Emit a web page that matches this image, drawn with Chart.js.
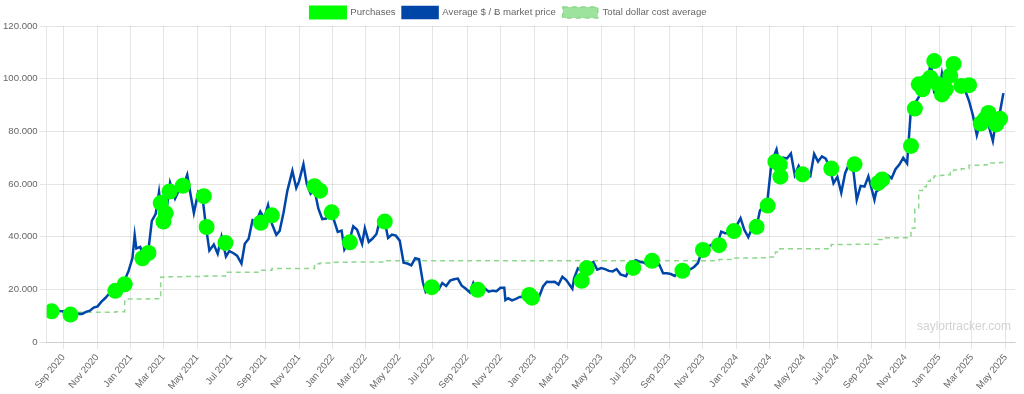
<!DOCTYPE html>
<html>
<head>
<meta charset="utf-8">
<script src="https://cdn.jsdelivr.net/npm/chart.js@4.4.1/dist/chart.umd.min.js"></script>
<style>
  html, body { margin: 0; padding: 0; background: #fff; }
  #wrap { position: relative; width: 1024px; height: 394px; }
  #mark { position: absolute; left: 917px; top: 320px; font: 12px 'Liberation Sans', Arial, sans-serif; line-height: 12px; color: #d2d2d2; white-space: nowrap; }
</style>
</head>
<body>
<div id="wrap">
  <canvas id="c" width="1024" height="394"></canvas>
  <div id="mark">saylortracker.com</div>
</div>
<script>
// ---------- DATA ----------
const priceDates = [
'2020-08-03','2020-08-10','2020-08-17','2020-08-24','2020-08-31','2020-09-07','2020-09-14','2020-09-21','2020-09-28','2020-10-05','2020-10-12','2020-10-19','2020-10-26','2020-11-02','2020-11-09','2020-11-16','2020-11-23','2020-11-30','2020-12-07','2020-12-14','2020-12-21','2020-12-28',
'2021-01-04','2021-01-08','2021-01-11','2021-01-18','2021-01-25','2021-02-01','2021-02-08','2021-02-15','2021-02-21','2021-02-28','2021-03-08','2021-03-13','2021-03-22','2021-03-29','2021-04-05','2021-04-13','2021-04-19','2021-04-25','2021-05-03','2021-05-10','2021-05-17','2021-05-23','2021-05-31','2021-06-07','2021-06-14','2021-06-22','2021-06-28','2021-07-05','2021-07-12','2021-07-20','2021-07-26','2021-08-02','2021-08-09','2021-08-16','2021-08-23','2021-08-30','2021-09-06','2021-09-13','2021-09-21','2021-09-27','2021-10-04','2021-10-11','2021-10-20','2021-10-27','2021-11-01','2021-11-09','2021-11-15','2021-11-22','2021-11-29','2021-12-06','2021-12-13','2021-12-20','2021-12-27',
'2022-01-03','2022-01-10','2022-01-17','2022-01-22','2022-01-31','2022-02-07','2022-02-14','2022-02-23','2022-02-28','2022-03-07','2022-03-14','2022-03-21','2022-03-28','2022-04-04','2022-04-11','2022-04-18','2022-04-25','2022-05-02','2022-05-09','2022-05-16','2022-05-23','2022-05-30','2022-06-06','2022-06-13','2022-06-18','2022-06-27','2022-07-04','2022-07-11','2022-07-18','2022-07-25','2022-08-01','2022-08-08','2022-08-15','2022-08-22','2022-08-29','2022-09-06','2022-09-12','2022-09-19','2022-09-26','2022-10-03','2022-10-10','2022-10-17','2022-10-24','2022-10-31','2022-11-07','2022-11-09','2022-11-14','2022-11-21','2022-11-28','2022-12-05','2022-12-12','2022-12-19','2022-12-26',
'2023-01-02','2023-01-09','2023-01-16','2023-01-23','2023-01-30','2023-02-06','2023-02-13','2023-02-20','2023-02-27','2023-03-10','2023-03-13','2023-03-20','2023-03-27','2023-04-03','2023-04-10','2023-04-17','2023-04-24','2023-05-01','2023-05-08','2023-05-15','2023-05-22','2023-05-29','2023-06-05','2023-06-15','2023-06-19','2023-06-26','2023-07-03','2023-07-10','2023-07-17','2023-07-24','2023-07-31','2023-08-07','2023-08-14','2023-08-21','2023-08-28','2023-09-04','2023-09-11','2023-09-18','2023-09-25','2023-10-02','2023-10-09','2023-10-16','2023-10-23','2023-10-30','2023-11-06','2023-11-13','2023-11-20','2023-11-27','2023-12-04','2023-12-11','2023-12-18','2023-12-25',
'2024-01-01','2024-01-08','2024-01-15','2024-01-22','2024-01-29','2024-02-05','2024-02-12','2024-02-19','2024-02-26','2024-03-04','2024-03-13','2024-03-18','2024-03-25','2024-04-01','2024-04-08','2024-04-15','2024-04-22','2024-04-29','2024-05-06','2024-05-13','2024-05-20','2024-05-27','2024-06-03','2024-06-10','2024-06-17','2024-06-24','2024-07-01','2024-07-08','2024-07-15','2024-07-22','2024-07-29','2024-08-05','2024-08-12','2024-08-19','2024-08-26','2024-09-06','2024-09-09','2024-09-16','2024-09-23','2024-09-30','2024-10-07','2024-10-14','2024-10-21','2024-10-28','2024-11-04','2024-11-11','2024-11-18','2024-11-25','2024-12-02','2024-12-09','2024-12-17','2024-12-23','2024-12-30',
'2025-01-06','2025-01-13','2025-01-21','2025-01-27','2025-02-03','2025-02-10','2025-02-17','2025-02-24','2025-03-03','2025-03-10','2025-03-17','2025-03-24','2025-03-31','2025-04-08','2025-04-14','2025-04-21','2025-04-27'
];
const priceValues = [
11200,11850,12250,11750,11650,10250,10800,10450,10750,10650,11450,11900,13050,13550,15300,16700,18400,19650,19200,19300,23500,27000,
31900,40500,35500,36100,32300,33500,46000,48700,57000,45200,52300,60500,54500,57600,58700,63500,56000,49000,57000,56000,43500,34700,37000,33500,40000,32500,34500,33800,32800,29800,37300,39200,46300,45900,49500,47000,52000,44900,40700,42200,49100,57500,65000,58500,61000,67500,60000,56300,57800,50600,46700,46900,50600,
46400,41800,42300,35100,38400,43900,42600,37300,43200,38000,39300,41000,47100,46600,39500,40800,40400,38500,30100,29800,29100,31800,31400,22500,19000,20700,20200,19900,22400,21300,23300,23800,24100,21400,20300,18800,22400,19500,19200,20300,19100,19500,19300,20600,20600,15900,16600,15800,16400,17100,17200,16900,16900,
16700,17200,21100,22900,22800,22900,21800,24800,23500,20200,24100,28000,27100,28200,29700,30300,27500,28100,27700,27000,26800,27700,25700,25000,26800,30300,31100,30400,30200,29200,29300,29000,29400,26100,26100,25800,25100,26800,26300,27500,27600,28500,30000,34500,35000,36500,37400,37200,41900,41300,41400,43600,
44200,47000,42500,39800,43300,42700,49900,51700,54500,68300,73100,67600,70000,69700,71600,63400,66800,63800,63100,62900,71400,68500,70500,69600,66500,60300,62700,56700,64100,67600,66800,54000,59300,59000,62900,54000,57000,58200,63300,63300,62200,65600,67400,69900,67800,88700,90500,93000,95900,97400,106100,94700,92800,
102000,94500,106000,102000,97800,97500,95500,91500,86000,78500,84000,87500,82500,76300,84500,87500,94500
];

const purchaseDates = [
'2020-08-11','2020-09-14','2020-12-04','2020-12-21',
'2021-01-22','2021-02-02','2021-02-24','2021-03-01','2021-03-05','2021-03-12','2021-04-05','2021-05-13','2021-05-18','2021-06-21','2021-08-24','2021-09-13','2021-11-29','2021-12-09','2021-12-30',
'2022-02-01','2022-04-05','2022-06-29','2022-09-20','2022-12-22','2022-12-27',
'2023-03-27','2023-04-05','2023-06-28','2023-08-01','2023-09-25','2023-11-01','2023-11-30','2023-12-27',
'2024-02-06','2024-02-26','2024-03-11','2024-03-19','2024-03-20','2024-04-29','2024-06-20','2024-08-01','2024-09-13','2024-09-20','2024-11-11','2024-11-18','2024-11-25','2024-12-02','2024-12-09','2024-12-16','2024-12-23','2024-12-30',
'2025-01-06','2025-01-13','2025-01-21','2025-01-27','2025-02-10','2025-02-24','2025-03-17','2025-03-24','2025-03-31','2025-04-14','2025-04-21'
];
const purchasePrices = [
11652,10419,19427,21925,
31808,33808,52765,45715,48888,57146,59339,55387,43663,37617,45294,48099,59187,57477,49229,
37865,45714,20817,19851,17871,16845,
23238,28016,28136,30835,27053,34935,36785,42110,
43723,51813,68477,67382,62800,63679,65883,67455,60408,61750,74463,88627,97862,95976,98783,100386,106662,97837,
94004,95972,101191,105596,97255,97514,82981,84529,86969,82618,84785
];

const costDates = [
'2020-08-11','2020-09-14','2020-12-04','2020-12-21',
'2021-01-22','2021-02-02','2021-02-24','2021-03-01','2021-03-05','2021-03-12','2021-04-05','2021-05-13','2021-05-18','2021-06-21','2021-08-24','2021-09-13','2021-11-29','2021-12-09','2021-12-30',
'2022-02-01','2022-04-05','2022-06-29','2022-09-20','2022-12-22',
'2023-03-27','2023-04-05','2023-06-28','2023-08-01','2023-09-25','2023-11-01','2023-11-30','2023-12-27',
'2024-02-06','2024-02-26','2024-03-11','2024-03-19','2024-04-29','2024-06-20','2024-08-01','2024-09-13','2024-09-20','2024-11-11','2024-11-18','2024-11-25','2024-12-02','2024-12-09','2024-12-16','2024-12-23','2024-12-30',
'2025-01-06','2025-01-13','2025-01-21','2025-01-27','2025-02-10','2025-02-24','2025-03-17','2025-03-24','2025-03-31','2025-04-14','2025-04-21','2025-04-27'
];
const costValues = [
11650,11300,11500,16300,
16350,16400,24600,24650,24700,24800,24900,25000,25050,26500,27200,27900,29700,30000,30300,
30400,30900,30900,30880,30870,
30850,30850,30850,30860,30850,30860,31300,31900,
32000,32300,34200,35400,35400,37000,37100,38900,39600,43200,50500,57500,59000,61000,62400,63000,63200,
63300,63500,64400,65300,65800,67100,67100,67300,68000,68100,68200,68200
];

const tickDates = [
'2020-09-01','2020-11-01','2021-01-01','2021-03-01','2021-05-01','2021-07-01','2021-09-01','2021-11-01',
'2022-01-01','2022-03-01','2022-05-01','2022-07-01','2022-09-01','2022-11-01',
'2023-01-01','2023-03-01','2023-05-01','2023-07-01','2023-09-01','2023-11-01',
'2024-01-01','2024-03-01','2024-05-01','2024-07-01','2024-09-01','2024-11-01',
'2025-01-01','2025-03-01','2025-05-01'
];
const tickLabels = [
'Sep 2020','Nov 2020','Jan 2021','Mar 2021','May 2021','Jul 2021','Sep 2021','Nov 2021',
'Jan 2022','Mar 2022','May 2022','Jul 2022','Sep 2022','Nov 2022',
'Jan 2023','Mar 2023','May 2023','Jul 2023','Sep 2023','Nov 2023',
'Jan 2024','Mar 2024','May 2024','Jul 2024','Sep 2024','Nov 2024',
'Jan 2025','Mar 2025','May 2025'
];
const yTickLabels = ['0','20.000','40.000','60.000','80.000','100.000','120.000'];
const xRange = ['2020-08-02','2025-05-18'];

// ---------- BUILD ----------
function toMs(s){ const p = s.split('-').map(Number); return Date.UTC(p[0], p[1]-1, p[2]); }
const pts = (dates, vals) => dates.map((d,i) => ({x: toMs(d), y: vals[i]}));

const FONT = "'Liberation Sans', Arial, Helvetica, sans-serif";
const FS = 9.6;
Chart.defaults.font.family = FONT;
Chart.defaults.font.size = FS;
Chart.defaults.color = '#666';

const legendHeight = {
  id: 'legendHeight',
  beforeLayout(chart){
    const lg = chart.legend;
    if (lg && !lg.__patched){
      const orig = lg.fit;
      lg.fit = function(){ orig.call(this); this.height = 26; };
      lg.__patched = true;
    }
  }
};

new Chart(document.getElementById('c'), {
  type: 'line',
  data: {
    datasets: [
      {
        label: 'Purchases',
        data: pts(purchaseDates, purchasePrices),
        showLine: false,
        pointRadius: 8,
        pointHoverRadius: 8,
        pointBorderWidth: 0,
        backgroundColor: '#00ff00',
        borderColor: '#00ff00',
        pointBackgroundColor: '#00ff00',
        clip: 0
      },
      {
        label: 'Average $ / Ƀ market price',
        data: pts(priceDates, priceValues),
        borderColor: '#0045a8',
        backgroundColor: '#0045a8',
        borderWidth: 2.5,
        pointRadius: 0,
        tension: 0,
        clip: 0
      },
      {
        label: 'Total dollar cost average',
        data: pts(costDates, costValues),
        borderColor: '#8ed88e',
        backgroundColor: '#9de29d',
        borderWidth: 1.5,
        borderDash: [5, 4],
        pointRadius: 0,
        stepped: true,
        clip: 0
      }
    ]
  },
  options: {
    responsive: false,
    animation: false,
    devicePixelRatio: 1,
    events: [],
    layout: { padding: { left: 2, right: 9, top: 0, bottom: 0 } },
    plugins: {
      legend: {
        position: 'top',
        labels: { boxWidth: 35, boxHeight: 11, padding: 7, color: '#666', font: { size: FS, family: FONT } }
      },
      tooltip: { enabled: false }
    },
    scales: {
      x: {
        type: 'linear',
        min: toMs(xRange[0]),
        max: toMs(xRange[1]),
        afterBuildTicks: (scale) => { scale.ticks = tickDates.map(d => ({ value: toMs(d) })); },
        afterFit: (scale) => { scale.height = 52; },
        ticks: {
          autoSkip: false,
          minRotation: 50,
          maxRotation: 50,
          padding: 3,
          color: '#666',
          font: { size: FS, family: FONT },
          callback: (v, i) => tickLabels[i]
        },
        grid: { color: 'rgba(0,0,0,0.1)', tickLength: 7 },
        border: { color: 'rgba(0,0,0,0.1)' }
      },
      y: {
        min: 0,
        max: 120000,
        afterFit: (scale) => { scale.width = 44.7; },
        ticks: {
          stepSize: 20000,
          padding: 2,
          color: '#666',
          font: { size: FS, family: FONT },
          callback: (v, i) => yTickLabels[i]
        },
        grid: { color: 'rgba(0,0,0,0.1)', tickLength: 7 },
        border: { color: 'rgba(0,0,0,0.1)' }
      }
    }
  },
  plugins: [legendHeight]
});
</script>
</body>
</html>
